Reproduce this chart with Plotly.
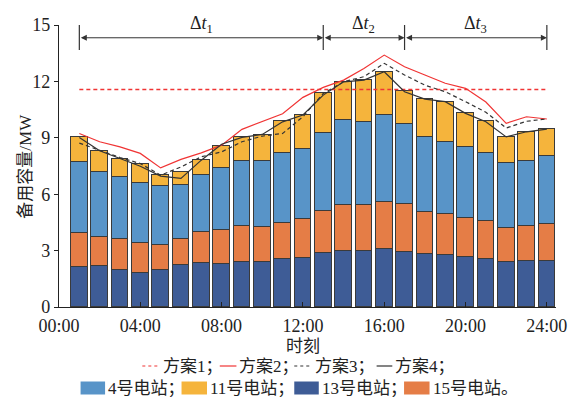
import plotly.graph_objects as go

hours = list(range(1, 25))
tick_vals = [0, 4, 8, 12, 16, 20, 24]
tick_text = ["00:00", "04:00", "08:00", "12:00", "16:00", "20:00", "24:00"]

# station reserve capacities (MW), stacked bottom -> top: 13, 15, 4, 11
st13 = [2.11, 2.17, 1.97, 1.79, 1.99, 2.26, 2.33, 2.31, 2.40, 2.42, 2.58, 2.63,
        2.88, 2.97, 3.00, 3.09, 2.90, 2.81, 2.79, 2.65, 2.58, 2.40, 2.47, 2.47]
st15 = [1.80, 1.54, 1.67, 1.62, 1.30, 1.36, 1.65, 1.81, 1.91, 1.84, 1.88, 2.04,
        2.25, 2.48, 2.43, 2.50, 2.60, 2.22, 2.16, 2.07, 1.97, 1.81, 1.84, 1.92]
st4 = [3.78, 3.46, 3.28, 3.16, 3.14, 2.86, 3.02, 3.30, 3.45, 3.52, 3.71, 3.76,
       4.10, 4.48, 4.42, 4.60, 4.26, 3.99, 3.82, 3.80, 3.62, 3.46, 3.48, 3.62]
st11 = [1.33, 1.12, 0.93, 1.03, 0.57, 0.68, 0.81, 1.15, 1.26, 1.38, 1.73, 1.76,
        2.13, 2.03, 2.24, 2.31, 1.73, 2.02, 2.15, 1.81, 1.72, 1.35, 1.51, 1.44]

# schemes (MW)
plan1 = [11.57] * 24
plan2 = [9.23, 8.79, 8.52, 8.17, 7.40, 7.85, 8.20, 8.61, 9.45, 9.87, 10.28, 11.15,
         11.68, 12.07, 12.69, 13.40, 12.78, 12.34, 11.90, 11.63, 10.90, 9.77, 10.12, 10.00]
plan3 = [8.72, 8.34, 7.95, 7.63, 7.01, 7.45, 7.99, 8.25, 8.79, 9.09, 9.23, 10.12,
         11.36, 11.98, 12.25, 12.96, 12.34, 11.80, 11.45, 10.92, 10.36, 9.52, 9.88, 10.00]
plan4 = [9.02, 8.31, 7.90, 7.49, 6.96, 6.84, 7.81, 8.66, 9.02, 9.18, 9.85, 10.21,
         11.27, 11.98, 12.07, 12.51, 11.45, 11.06, 10.92, 10.30, 9.85, 9.05, 9.32, 9.46]

periods = [(1, 13, "Δ<i>t</i><sub>1</sub>"), (13, 17, "Δ<i>t</i><sub>2</sub>"), (17, 24, "Δ<i>t</i><sub>3</sub>")]

C13, C15, C4, C11 = "#3E5C96", "#E57D46", "#5894C8", "#F5B43C"
RED, BLK = "#F03434", "#333333"
FONT = "Liberation Serif, Noto Sans CJK SC, serif"

W, H = 579, 397
ML, MR, MT, MB = 59, 13, 25, 90
PW, PH = W - ML - MR, H - MT - MB

fig = go.Figure()
for vals, col, name in [(st13, C13, "13号电站"), (st15, C15, "15号电站"),
                        (st4, C4, "4号电站"), (st11, C11, "11号电站")]:
    fig.add_trace(go.Bar(x=hours, y=vals, name=name, width=0.82,
                         marker=dict(color=col, line=dict(color="#3a3a3a", width=1)),
                         showlegend=False))

fig.add_trace(go.Scatter(x=hours, y=plan1, mode="lines", name="方案1",
                         line=dict(color=RED, width=1.3, dash="4px,3px"), showlegend=False))
fig.add_trace(go.Scatter(x=hours, y=plan2, mode="lines", name="方案2",
                         line=dict(color=RED, width=1.2), showlegend=False))
fig.add_trace(go.Scatter(x=hours, y=plan3, mode="lines", name="方案3",
                         line=dict(color=BLK, width=1.2, dash="4px,3px"), showlegend=False))
fig.add_trace(go.Scatter(x=hours, y=plan4, mode="lines", name="方案4",
                         line=dict(color=BLK, width=1.2), showlegend=False))


def px(xp):
    return (xp - ML) / PW


def py(yp):
    return (H - MB - yp) / PH


shapes = []
annotations = []
# period markers
bounds = sorted(set([p[0] for p in periods] + [p[1] for p in periods]))
for b in bounds:
    shapes.append(dict(type="line", xref="x", yref="y", x0=b, x1=b, y0=13.67, y1=15.0,
                       line=dict(color=BLK, width=1.2)))
for a, b, lab in periods:
    annotations.append(dict(x=b, y=14.32, ax=a, ay=14.32, xref="x", yref="y",
                            axref="x", ayref="y", text="", showarrow=True,
                            arrowside="end+start", arrowhead=2, arrowsize=1.2,
                            arrowwidth=1, arrowcolor=BLK, standoff=0, startstandoff=0))
    annotations.append(dict(x=(a + b) / 2, y=py(24), xref="x", yref="paper", text=lab,
                            showarrow=False, font=dict(family=FONT, size=18, color="#222"),
                            xanchor="center", yanchor="middle"))

# axis titles
annotations.append(dict(x=px(24), y=0.5, xref="paper", yref="paper", text="备用容量/MW",
                        textangle=-90, showarrow=False, xanchor="center", yanchor="middle",
                        font=dict(family=FONT, size=17, color="#222")))
annotations.append(dict(x=px(308), y=py(346), xref="paper", yref="paper",
                        text="时刻", showarrow=False, xanchor="center", yanchor="middle",
                        font=dict(family=FONT, size=17, color="#222")))

# manual legend
row1 = [(144, 162, RED, "dot", "方案1；"), (223, 240, RED, "solid", "方案2；"),
        (299, 317, BLK, "dot", "方案3；"), (383, 399, BLK, "solid", "方案4；")]
for x0, x1, col, dash, txt in row1:
    shapes.append(dict(type="line", xref="paper", yref="paper", x0=px(x0), x1=px(x1),
                       y0=py(366), y1=py(366), line=dict(color=col, width=1.2, dash=dash)))
    annotations.append(dict(x=px(x1 + 1), y=py(366), xref="paper", yref="paper", text=txt,
                            showarrow=False, xanchor="left", yanchor="middle",
                            font=dict(family=FONT, size=17, color="#222")))
row2 = [(81, 106, C4, "4号电站；"), (184, 210, C11, "11号电站；"),
        (299, 324, C13, "13号电站；"), (411, 437, C15, "15号电站。")]
for x0, x1, col, txt in row2:
    shapes.append(dict(type="rect", xref="paper", yref="paper", x0=px(x0), x1=px(x1),
                       y0=py(394.5), y1=py(381.5), fillcolor=col, line=dict(width=0)))
    annotations.append(dict(x=px(x1 + 1), y=py(388), xref="paper", yref="paper", text=txt,
                            showarrow=False, xanchor="left", yanchor="middle",
                            font=dict(family=FONT, size=17, color="#222")))

fig.update_layout(
    width=W, height=H, barmode="stack", bargap=0,
    margin=dict(l=ML, r=MR, t=MT, b=MB),
    plot_bgcolor="white", paper_bgcolor="white",
    shapes=shapes, annotations=annotations,
    font=dict(family=FONT, size=18, color="#222"),
    xaxis=dict(range=[0, 24.45], tickvals=tick_vals, ticktext=tick_text,
               showline=True, linecolor="#222", linewidth=1.2, ticks="inside",
               ticklen=5, tickcolor="#222", showgrid=False, zeroline=False,
               ticklabelstandoff=2,
               tickfont=dict(family=FONT, size=18, color="#222")),
    yaxis=dict(range=[0, 15], tickvals=[0, 3, 6, 9, 12, 15],
               showline=True, linecolor="#222", linewidth=1.2, ticks="outside",
               ticklen=4, tickcolor="#222", showgrid=False, zeroline=False,
               tickfont=dict(family=FONT, size=18, color="#222")),
)

fig.write_html("out.html", config={"displayModeBar": False},
               post_script="document.body.style.margin='0';document.body.style.overflow='hidden';")
